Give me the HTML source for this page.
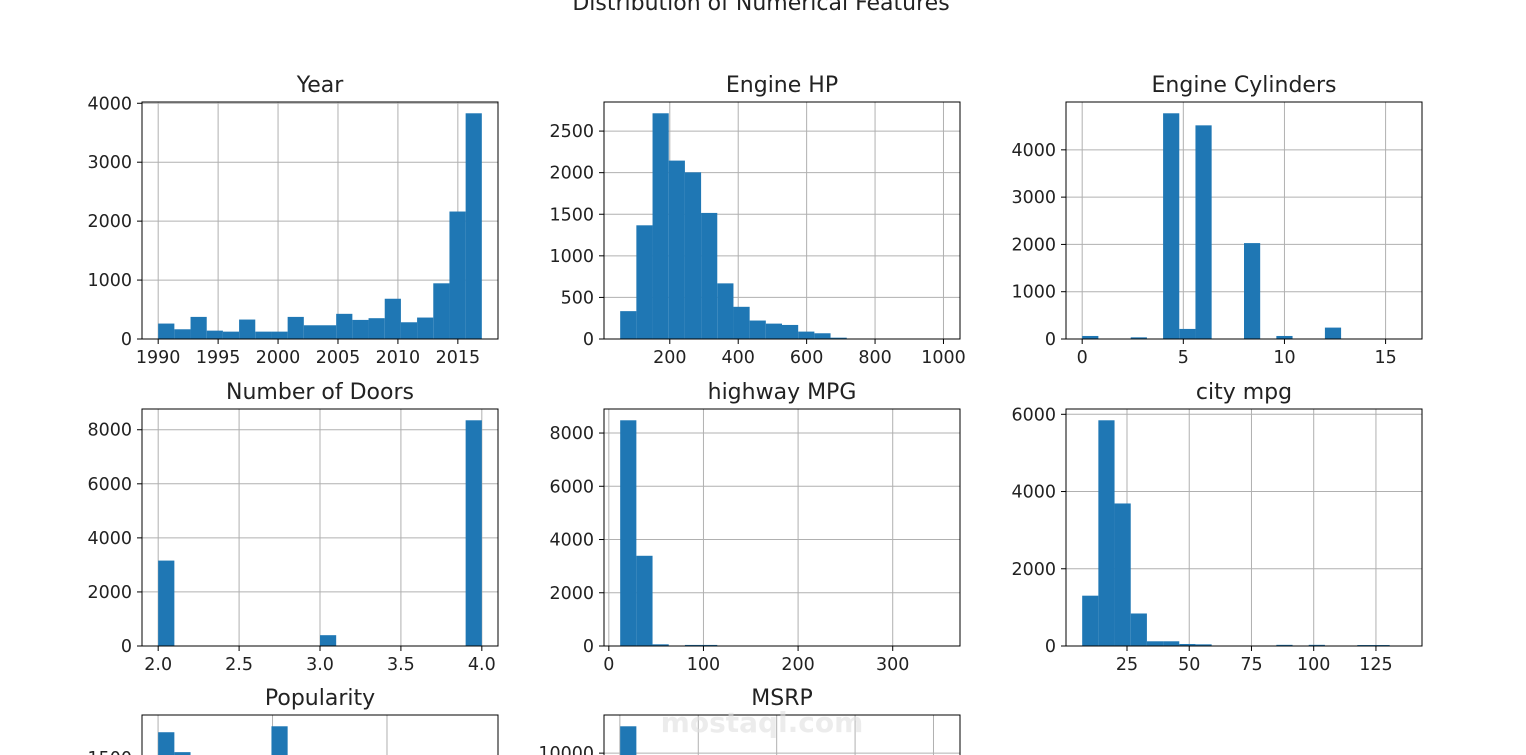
<!DOCTYPE html>
<html><head><meta charset="utf-8">
<style>
html,body{margin:0;padding:0;background:#fff;overflow:hidden;width:1526px;height:755px;}
svg{display:block;font-family:"DejaVu Sans","Liberation Sans",sans-serif;overflow:hidden;}
</style></head>
<body>
<svg id="fig" width="1526" height="755" viewBox="0 0 1526 755">
<defs><clipPath id="frameclip"><rect x="0" y="0" width="1526" height="755"/></clipPath></defs>
<g id="root" clip-path="url(#frameclip)">
<text x="761" y="10" font-size="22" text-anchor="middle" fill="#222">Distribution of Numerical Features</text>
</g>
</svg>
<script>
// ---- data (histogram counts per bin, 20 bins each) ----
const yearCounts = [262,165,375,142,125,330,125,125,375,233,233,427,324,353,683,284,364,945,2163,3830];
const hpCounts = [335,1367,2714,2145,2004,1516,669,387,222,185,169,89,69,16,2,1,0,0,0,1];
const cylCounts = [64,0,0,35,0,4773,213,4518,0,0,2028,0,64,0,0,241,0,0,0,3];
const doorCounts = [3160,0,0,0,0,0,0,0,0,0,400,0,0,0,0,0,0,0,0,8350];
const hwyCounts = [8479,3389,63,2,40,40,0,0,0,0,0,0,0,0,0,0,0,0,0,1];
const cityCounts = [1303,5845,3691,842,122,122,52,43,0,0,0,0,30,0,30,0,0,25,25,0];
const popCounts = [1700,1546,0,0,0,0,0,1746,0,0,0,0,0,0,0,0,0,0,0,0];
const msrpCounts = [11350,300,50,10,5,0,0,0,0,0,0,0,0,0,0,0,0,0,0,1];
const titles = ["Year","Engine HP","Engine Cylinders","Number of Doors","highway MPG","city mpg","Popularity","MSRP"];
const dataMin = [1990,55,0,2,12,7,2,2000];
const dataMax = [2017,1001,16,4,354,137,5657,2065902];
const xTicks = [[1990,1995,2000,2005,2010,2015],[200,400,600,800,1000],[0,5,10,15],[2.0,2.5,3.0,3.5,4.0],[0,100,200,300],[25,50,75,100,125],[0,2000,4000],[0,500000,1000000,1500000,2000000]];
const xTickLabels = [["1990","1995","2000","2005","2010","2015"],["200","400","600","800","1000"],["0","5","10","15"],["2.0","2.5","3.0","3.5","4.0"],["0","100","200","300"],["25","50","75","100","125"],["","",""],["","","","",""]];
const yTicks = [[0,1000,2000,3000,4000],[0,500,1000,1500,2000,2500],[0,1000,2000,3000,4000],[0,2000,4000,6000,8000],[0,2000,4000,6000,8000],[0,2000,4000,6000],[0,500,1000,1500],[0,2000,4000,6000,8000,10000]];
const allCounts = [yearCounts,hpCounts,cylCounts,doorCounts,hwyCounts,cityCounts,popCounts,msrpCounts];

const NS="http://www.w3.org/2000/svg";
const root=document.getElementById('root');
function mk(tag,attrs,parent){const e=document.createElementNS(NS,tag);for(const k in attrs)e.setAttribute(k,attrs[k]);(parent||root).appendChild(e);return e;}
const colX=[142,604,1066], rowY=[102,409,715], W=356, H=237;
const slug=s=>s.toLowerCase().replace(/[^a-z0-9]+/g,'-');
const TF=17.5, TT=22;

allCounts.forEach((counts,i)=>{
  const ax=colX[i%3], ay=rowY[Math.floor(i/3)];
  const name=slug(titles[i]);
  const g=mk('g',{});
  
  
  const lo=dataMin[i], hi=dataMax[i], span=hi-lo;
  const x0=lo-span*0.05, x1=hi+span*0.05;
  const ymax=Math.max(...counts)*1.05;
  const sx=v=>ax+(v-x0)/(x1-x0)*W;
  const sy=v=>ay+H-v/ymax*H;
  const clipId='clip'+i;
  const cp=mk('clipPath',{id:clipId},g); mk('rect',{x:ax,y:ay,width:W,height:H},cp);
  xTicks[i].forEach(t=>{const l=mk('line',{x1:sx(t),x2:sx(t),y1:ay,y2:ay+H,stroke:'#b0b0b0','stroke-width':1,'clip-path':`url(#${clipId})`},g);
    
    });
  yTicks[i].forEach(t=>{const l=mk('line',{x1:ax,x2:ax+W,y1:sy(t),y2:sy(t),stroke:'#b0b0b0','stroke-width':1},g);
    
    });
  const bw=span/counts.length;
  counts.forEach((c,k)=>{ if(c<=0) return;
    const xa=sx(lo+k*bw), xb=sx(lo+(k+1)*bw);
    const r=mk('rect',{x:xa,y:sy(c),width:xb-xa,height:ay+H-sy(c),fill:'#1f77b4'},g);
    
    });
  const sp=mk('rect',{x:ax,y:ay,width:W,height:H,fill:'none',stroke:'#000','stroke-width':1},g);
  
  
  xTicks[i].forEach((t,j)=>{mk('line',{x1:sx(t),x2:sx(t),y1:ay+H,y2:ay+H+5,stroke:'#000'},g);
    const tx=mk('text',{x:sx(t),y:ay+H+24,'font-size':TF,'text-anchor':'middle',fill:'#222'},g);
    tx.textContent=xTickLabels[i][j];
    
    });
  yTicks[i].forEach(t=>{mk('line',{x1:ax-5,x2:ax,y1:sy(t),y2:sy(t),stroke:'#000'},g);
    const tx=mk('text',{x:ax-10,y:sy(t)+6,'font-size':TF,'text-anchor':'end',fill:'#222'},g);
    tx.textContent=String(t);
    
    });
  const tt=mk('text',{x:ax+W/2,y:ay-10,'font-size':TT,'text-anchor':'middle',fill:'#222'},g);
  tt.textContent=titles[i];
  
  
});
const wm=mk('text',{x:762,y:732,'font-size':28,'font-weight':'bold','text-anchor':'middle',fill:'#e0e0e0','fill-opacity':0.6});
wm.textContent='mostaql.com';


</script>
</body></html>
